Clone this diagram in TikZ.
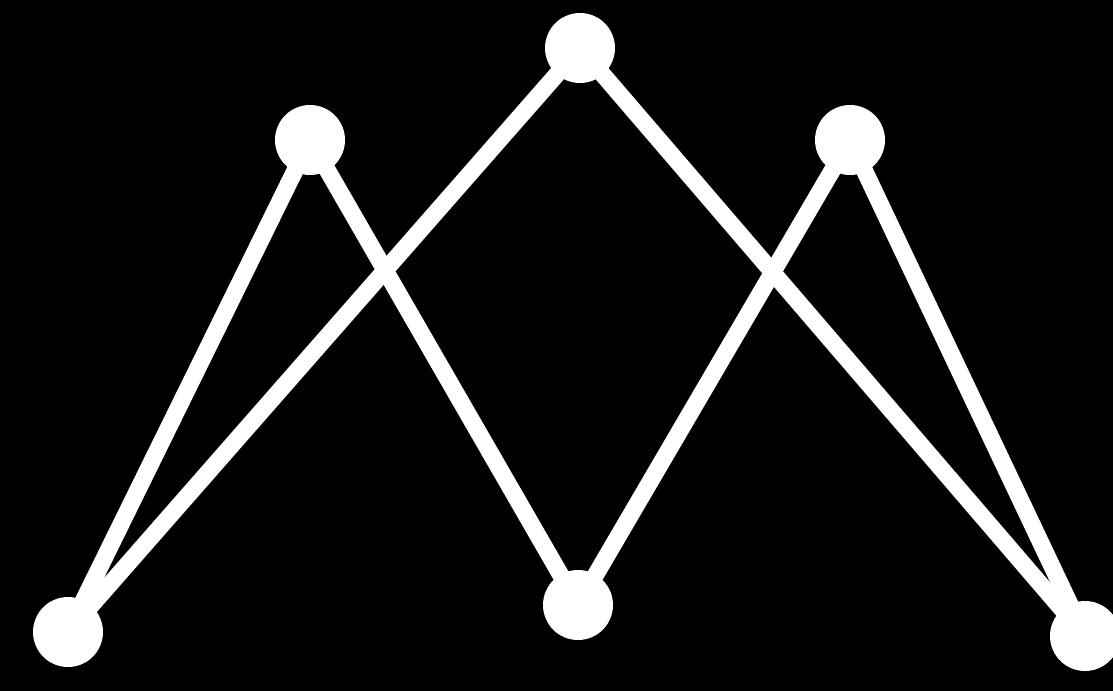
\documentclass[tikz,border=0pt]{standalone}
\begin{document}
\begin{tikzpicture}[x=0.025cm,y=-0.025cm,
  dot/.style={circle,fill=white,draw=none,minimum size=70*0.025cm,inner sep=0pt},
  bar/.style={white,line width=17*0.025cm,line cap=round}]
\fill[black] (0,0) rectangle (1113,691);
\useasboundingbox (0,0) rectangle (1113,691);
\node[dot] (T) at (580,48) {};
\node[dot] (UL) at (310,140) {};
\node[dot] (UR) at (850,140) {};
\node[dot] (BL) at (68,632) {};
\node[dot] (BM) at (578,605) {};
\node[dot] (BR) at (1085,636) {};
\draw[bar] (BL.center) -- (UL.center);
\draw[bar] (BL.center) -- (T.center);
\draw[bar] (UL.center) -- (BM.center);
\draw[bar] (T.center) -- (BR.center);
\draw[bar] (BM.center) -- (UR.center);
\draw[bar] (UR.center) -- (BR.center);
\end{tikzpicture}
\end{document}
